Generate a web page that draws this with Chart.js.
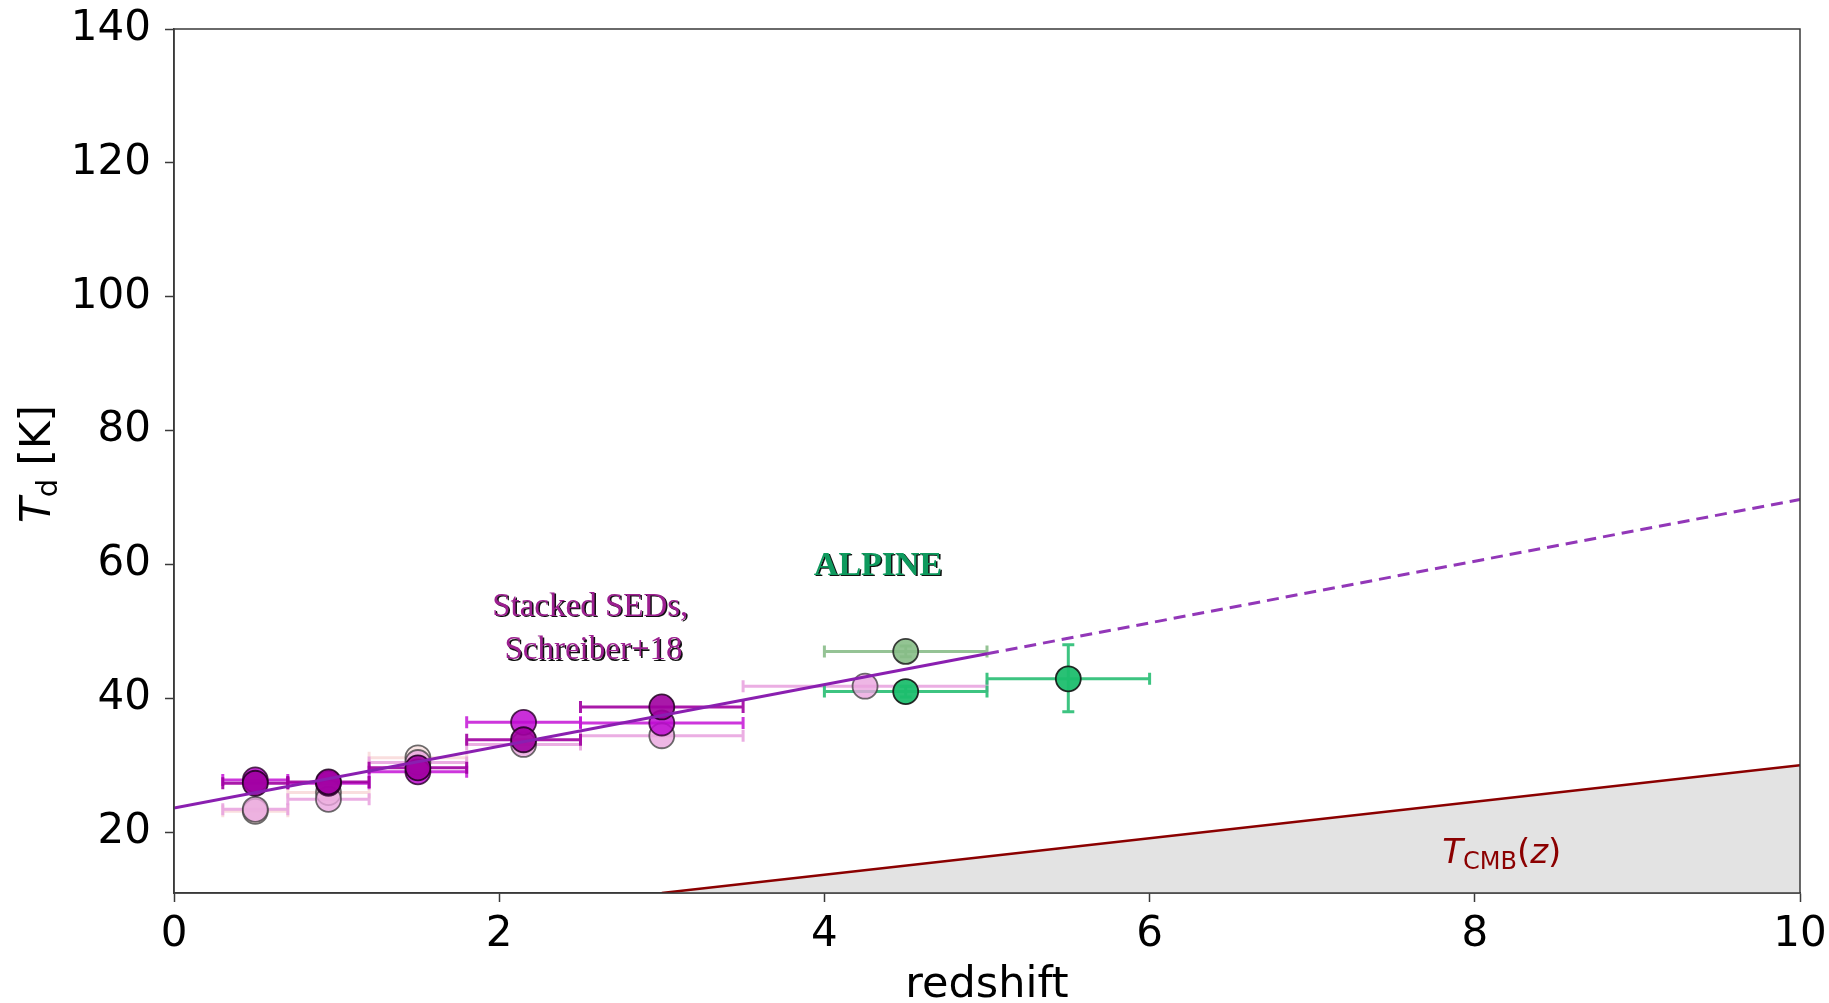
<!DOCTYPE html>
<html>
<head>
<meta charset="utf-8">
<script src="https://cdn.jsdelivr.net/npm/chart.js@4/dist/chart.umd.min.js"></script>
<style>
  html, body { margin: 0; padding: 0; background: #fff; }
  #box { width: 1829px; height: 1003px; }
</style>
</head>
<body>
<div id="box"><canvas id="tdz" width="1829" height="1003"></canvas></div>
<script>
// eixos
var xTicks = [0, 2, 4, 6, 8, 10];
var yTicks = [20, 40, 60, 80, 100, 120, 140];
var yMin = 10.9, yMax = 140;

// Schreiber+18 - pilhas de SEDs (4 versões)
var escuroZ = [0.5, 0.95, 1.5, 2.15, 3.0];
var escuroT = [27.3, 27.5, 29.6, 33.8, 38.7];
var escuroZmin = [0.3, 0.7, 1.2, 1.8, 2.5];
var escuroZmax = [0.7, 1.2, 1.8, 2.5, 3.5];

var medioZ = [0.5, 0.95, 1.5, 2.15, 3.0];
var medioT = [27.8, 27.3, 29.0, 36.4, 36.3];
var medioZmin = [0.3, 0.7, 1.2, 1.8, 2.5];
var medioZmax = [0.7, 1.2, 1.8, 2.5, 3.5];

var rosaZ = [0.5, 0.95, 1.5, 2.15, 3.0, 4.25];
var rosaT = [23.4, 24.9, 30.4, 33.1, 34.4, 41.8];
var rosaZmin = [0.3, 0.7, 1.2, 1.8, 2.5, 3.5];
var rosaZmax = [0.7, 1.2, 1.8, 2.5, 3.5, 5.0];

var claroZ = [0.5, 0.95, 1.5];
var claroT = [23.1, 25.9, 31.1];
var claroZmin = [0.3, 0.7, 1.2];
var claroZmax = [0.7, 1.2, 1.8];

// ALPINE
var alpineZ = [4.5, 5.5];
var alpineT = [41.0, 42.9];
var alpineZmin = [4.0, 5.0];
var alpineZmax = [5.0, 6.0];
var alpineTmin = [40.2, 38.0];
var alpineTmax = [41.8, 48.0];

var alpine2Z = [4.5];
var alpine2T = [47.0];
var alpine2Zmin = [4.0];
var alpine2Zmax = [5.0];
var alpine2Tmin = [46.2];
var alpine2Tmax = [47.8];

// ajuste linear (sólido até z=5, tracejado depois)
var ajusteZ = [0, 5, 10];
var ajusteT = [23.6, 46.65, 69.7];

// T_CMB(z)
var cmbZ = [3, 10];
var cmbT = [10.9, 30.0];

function pontos(zs, ts) {
  return zs.map(function (z, i) { return { x: z, y: ts[i] }; });
}

// grupos de barras de erro
var barras = [
  { z: claroZ, t: claroT, zmin: claroZmin, zmax: claroZmax, cor: 'rgba(248,214,214,0.8)' },
  { z: rosaZ, t: rosaT, zmin: rosaZmin, zmax: rosaZmax, cor: 'rgba(232,160,222,0.85)' },
  { z: medioZ, t: medioT, zmin: medioZmin, zmax: medioZmax, cor: 'rgba(196,20,214,0.85)' },
  { z: escuroZ, t: escuroT, zmin: escuroZmin, zmax: escuroZmax, cor: 'rgba(160,0,160,0.9)' },
  { z: alpine2Z, t: alpine2T, zmin: alpine2Zmin, zmax: alpine2Zmax, tmin: alpine2Tmin, tmax: alpine2Tmax, cor: 'rgba(130,185,130,0.85)' },
  { z: alpineZ, t: alpineT, zmin: alpineZmin, zmax: alpineZmax, tmin: alpineTmin, tmax: alpineTmax, cor: 'rgba(40,190,115,0.9)' }
];

var pluginErros = {
  id: 'erros',
  beforeDatasetsDraw: function (chart) {
    var ctx = chart.ctx, sx = chart.scales.x, sy = chart.scales.y;
    ctx.save();
    ctx.lineWidth = 3;
    barras.forEach(function (g) {
      ctx.strokeStyle = g.cor;
      for (var i = 0; i < g.z.length; i++) {
        var y = sy.getPixelForValue(g.t[i]);
        var x0 = sx.getPixelForValue(g.zmin[i]), x1 = sx.getPixelForValue(g.zmax[i]);
        ctx.beginPath();
        ctx.moveTo(x0, y); ctx.lineTo(x1, y);
        ctx.moveTo(x0, y - 6); ctx.lineTo(x0, y + 6);
        ctx.moveTo(x1, y - 6); ctx.lineTo(x1, y + 6);
        if (g.tmin) {
          var x = sx.getPixelForValue(g.z[i]);
          var y0 = sy.getPixelForValue(g.tmin[i]), y1 = sy.getPixelForValue(g.tmax[i]);
          ctx.moveTo(x, y0); ctx.lineTo(x, y1);
          ctx.moveTo(x - 6, y0); ctx.lineTo(x + 6, y0);
          ctx.moveTo(x - 6, y1); ctx.lineTo(x + 6, y1);
        }
        ctx.stroke();
      }
    });
    ctx.restore();
  }
};

// moldura, títulos dos eixos e textos
var pluginTextos = {
  id: 'textos',
  afterDraw: function (chart) {
    var ctx = chart.ctx, a = chart.chartArea, sx = chart.scales.x, sy = chart.scales.y;
    ctx.save();
    ctx.strokeStyle = '#3a3a3a';
    ctx.lineWidth = 1.5;
    ctx.strokeRect(a.left, a.top, a.right - a.left, a.bottom - a.top);

    // redshift
    ctx.fillStyle = '#000';
    ctx.font = '43px "DejaVu Sans"';
    ctx.textAlign = 'center';
    ctx.textBaseline = 'alphabetic';
    ctx.fillText('redshift', (a.left + a.right) / 2, 997);

    // T_d [K]
    ctx.save();
    ctx.translate(50, sy.getPixelForValue(75.0));
    ctx.rotate(-Math.PI / 2);
    ctx.textAlign = 'left';
    var partes = [
      { t: 'T', f: 'italic 42px "DejaVu Sans"', dy: 0 },
      { t: 'd', f: '29px "DejaVu Sans"', dy: 7 },
      { t: ' [K]', f: '42px "DejaVu Sans"', dy: 0 }
    ];
    var larg = 0;
    partes.forEach(function (p) { ctx.font = p.f; larg += ctx.measureText(p.t).width; });
    var px = -larg / 2;
    partes.forEach(function (p) {
      ctx.font = p.f; ctx.fillText(p.t, px, p.dy); px += ctx.measureText(p.t).width;
    });
    ctx.restore();

    // T_CMB(z)
    ctx.fillStyle = '#8b0000';
    ctx.textAlign = 'left';
    var cmb = [
      { t: 'T', f: 'italic 34px "DejaVu Sans"', dy: 0 },
      { t: 'CMB', f: '24px "DejaVu Sans"', dy: 6 },
      { t: '(', f: '34px "DejaVu Sans"', dy: 0 },
      { t: 'z', f: 'italic 34px "DejaVu Sans"', dy: 0 },
      { t: ')', f: '34px "DejaVu Sans"', dy: 0 }
    ];
    var cx = sx.getPixelForValue(7.8), cy = sy.getPixelForValue(15.4);
    cmb.forEach(function (p) {
      ctx.font = p.f; ctx.fillText(p.t, cx, cy + p.dy); cx += ctx.measureText(p.t).width;
    });

    // rótulos com sombra
    function sombra(txt, x, y, cor, fonte) {
      ctx.font = fonte;
      ctx.textAlign = 'center';
      ctx.textBaseline = 'middle';
      ctx.fillStyle = '#111';
      ctx.fillText(txt, x + 1.5, y + 1.5);
      ctx.fillStyle = cor;
      ctx.fillText(txt, x, y);
    }
    sombra('Stacked SEDs,', sx.getPixelForValue(2.56), sy.getPixelForValue(53.6), '#9c2090', '33px "Liberation Serif"');
    sombra('Schreiber+18', sx.getPixelForValue(2.58), sy.getPixelForValue(47.1), '#9c2090', '33px "Liberation Serif"');
    sombra('ALPINE', sx.getPixelForValue(4.33), sy.getPixelForValue(59.8), '#0f9a5e', 'bold 34px "Liberation Serif"');
    ctx.restore();
  }
};

function marcadores(zs, ts, fundo, borda, ordem) {
  return {
    type: 'scatter',
    data: pontos(zs, ts),
    backgroundColor: fundo,
    borderColor: borda,
    borderWidth: 1.8,
    pointRadius: 12.5,
    order: ordem
  };
}

// sem folga automática dos rótulos: a área útil fica só pelo layout.padding
function semFolga(s) {
  s.paddingTop = 0; s.paddingBottom = 0; s.paddingLeft = 0; s.paddingRight = 0;
}

Chart.defaults.font.family = '"DejaVu Sans"';
Chart.defaults.color = '#000';

var ctx = document.getElementById('tdz').getContext('2d');
var grafico = new Chart(ctx, {
  type: 'scatter',
  data: {
    datasets: [
      {
        type: 'line',
        data: pontos(cmbZ, cmbT),
        borderColor: '#8b0000',
        borderWidth: 2.5,
        backgroundColor: '#e3e3e3',
        fill: 'start',
        pointRadius: 0,
        order: 10
      },
      marcadores(claroZ, claroT, 'rgba(248,222,222,0.75)', 'rgba(60,60,60,0.75)', 8),
      marcadores(rosaZ, rosaT, 'rgba(234,165,222,0.8)', 'rgba(60,60,60,0.75)', 7),
      marcadores(medioZ, medioT, 'rgba(192,10,210,0.85)', 'rgba(40,0,40,0.8)', 6),
      marcadores(escuroZ, escuroT, 'rgba(160,0,160,0.9)', 'rgba(30,0,30,0.85)', 5),
      marcadores(alpine2Z, alpine2T, 'rgba(135,190,135,0.9)', 'rgba(30,30,30,0.85)', 4),
      marcadores(alpineZ, alpineT, 'rgba(30,190,110,0.95)', 'rgba(20,20,20,0.9)', 3),
      {
        type: 'line',
        data: pontos(ajusteZ.slice(0, 2), ajusteT.slice(0, 2)),
        borderColor: '#8a1fb0',
        borderWidth: 3,
        pointRadius: 0,
        fill: false,
        order: 1
      },
      {
        type: 'line',
        data: pontos(ajusteZ.slice(1), ajusteT.slice(1)),
        borderColor: '#9237b8',
        borderWidth: 3,
        borderDash: [12, 7],
        pointRadius: 0,
        fill: false,
        order: 1
      }
    ]
  },
  options: {
    responsive: false,
    animation: false,
    devicePixelRatio: 1,
    layout: { padding: { left: 0, top: 29, right: 29, bottom: 0 } },
    plugins: { legend: { display: false }, tooltip: { enabled: false } },
    scales: {
      x: {
        type: 'linear',
        min: 0, max: 10,
        afterBuildTicks: function (s) { s.ticks = xTicks.map(function (v) { return { value: v }; }); },
        afterFit: function (s) { s.height = 110; semFolga(s); },
        ticks: { font: { size: 42 }, padding: 8, maxRotation: 0 },
        grid: { drawOnChartArea: false, drawTicks: true, tickLength: 9, tickWidth: 1.5, tickColor: '#3a3a3a' },
        border: { display: true, color: '#3a3a3a', width: 1.5 }
      },
      y: {
        type: 'linear',
        min: yMin, max: yMax,
        afterBuildTicks: function (s) { s.ticks = yTicks.map(function (v) { return { value: v }; }); },
        afterFit: function (s) { s.width = 174; semFolga(s); },
        ticks: { font: { size: 42 }, padding: 14 },
        grid: { drawOnChartArea: false, drawTicks: true, tickLength: 9, tickWidth: 1.5, tickColor: '#3a3a3a' },
        border: { display: true, color: '#3a3a3a', width: 1.5 }
      }
    }
  },
  plugins: [pluginErros, pluginTextos]
});
</script>
</body>
</html>
